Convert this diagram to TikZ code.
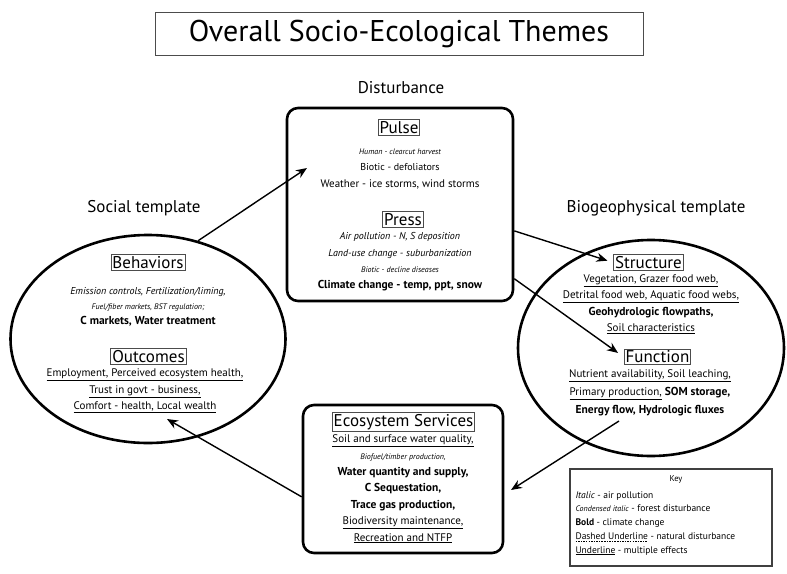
\documentclass[tikz,border=0pt]{standalone}
\usepackage{fontspec}
\setmainfont{PT Sans}
\usetikzlibrary{shapes.geometric,arrows.meta}

% text looks used in the key
\newcommand{\airpol}[1]{{\itshape\fontsize{10}{16}\selectfont #1}}
\newcommand{\forestdist}[1]{{\itshape\fontsize{8}{16}\selectfont #1}}
\newcommand{\climchg}[1]{{\bfseries\fontsize{11.5}{16}\selectfont #1}}
\newcommand{\multeff}[1]{\underline{#1}}
\newcommand{\dashul}[1]{\setbox0\hbox{#1}\rlap{\raisebox{-2pt}{\hbox to \wd0{\xleaders\hbox{\rule{1.5pt}{0.4pt}\hspace{1pt}}\hfill}}}\box0\relax}

\begin{document}
\begin{tikzpicture}[x=1pt,y=-1pt]

%-------------------------------------------------
% Styles
%-------------------------------------------------
\tikzset{
  titlebox/.style={draw=black!70, line width=0.8pt, minimum width=488, minimum height=43, font=\fontsize{30}{32}\selectfont},
  caption/.style={font=\fontsize{17}{19}\selectfont},
  hdr/.style={draw=black!70, line width=0.9pt, inner sep=1.5pt, font=\fontsize{17}{18}\selectfont},
  items/.style={align=center, font=\fontsize{11}{16.4}\selectfont},
  frame/.style={draw=black, line width=2.6pt, rounded corners=11pt, inner sep=0pt},
  template/.style={draw=black, ellipse, line width=2.6pt, inner sep=0pt},
  keybox/.style={draw=black!75, line width=2.2pt, inner sep=0pt},
  keytext/.style={align=left, font=\fontsize{9.5}{13.7}\selectfont},
  link/.style={-{Stealth[length=11pt,width=9pt]}, line width=1.4pt}
}

\useasboundingbox (0,0) rectangle (787,573);

%-------------------------------------------------
% Title
%-------------------------------------------------
\node[titlebox] (title) at (399,34) {Overall Socio-Ecological Themes};

%-------------------------------------------------
% Disturbance
%-------------------------------------------------
\node[caption] (distlab) at (401,88) {Disturbance};
\node[frame, minimum width=226, minimum height=193] (dist) at (400,204.5) {};

\node[hdr] (pulse) at (399,127.5) {Pulse};
\node[items] (pulsetxt) at (400,169) {%
  \forestdist{Human - clearcut harvest}\\
  {\fontsize{10}{16}\selectfont Biotic - defoliators}\\
  Weather - ice storms, wind storms};

\node[hdr] (press) at (403,219.5) {Press};
\node[items] (presstxt) at (400,262) {%
  \airpol{Air pollution - N, S deposition}\\
  \airpol{Land-use change - suburbanization}\\
  \forestdist{Biotic - decline diseases}\\
  \climchg{Climate change - temp, ppt, snow}};

%-------------------------------------------------
% Social template
%-------------------------------------------------
\node[caption] (soclab) at (144,208) {Social template};
\node[template, minimum width=275, minimum height=208] (soc) at (148,339) {};

\node[hdr] (behav) at (148,262.5) {Behaviors};
\node[items, font=\fontsize{11}{15}\selectfont] (behavtxt) at (148,307) {%
  \airpol{Emission controls, Fertilization/liming,}\\
  \forestdist{Fuel/fiber markets, BST regulation;}\\
  \climchg{C markets, Water treatment}};

\node[hdr] (outc) at (148.5,356.5) {Outcomes};
\node[items] (outctxt) at (145,391) {%
  \multeff{Employment, Perceived ecosystem health,}\\
  \multeff{Trust in govt - business,}\\
  \multeff{Comfort - health, Local wealth}};

%-------------------------------------------------
% Biogeophysical template
%-------------------------------------------------
\node[caption] (biolab) at (656,208) {Biogeophysical template};
\node[template, minimum width=266, minimum height=216] (bio) at (651,348) {};

\node[hdr] (struct) at (648.5,262.5) {Structure};
\node[items] (structtxt) at (651,304) {%
  \multeff{Vegetation, Grazer food web,}\\
  \multeff{Detrital food web, Aquatic food webs,}\\
  \climchg{Geohydrologic flowpaths,}\\
  \multeff{Soil characteristics}};

\node[hdr] (func) at (657.5,357) {Function};
\node[items, font=\fontsize{11}{18}\selectfont] (functxt) at (650,393) {%
  \multeff{Nutrient availability, Soil leaching,}\\
  \multeff{Primary production,} \climchg{SOM storage,}\\
  \climchg{Energy flow, Hydrologic fluxes}};

%-------------------------------------------------
% Ecosystem services
%-------------------------------------------------
\node[frame, minimum width=200, minimum height=148] (eco) at (403,479) {};
\node[hdr] (ecoh) at (403.5,422) {Ecosystem Services};
\node[items] (ecotxt) at (403,489) {%
  \multeff{Soil and surface water quality,}\\
  \forestdist{Biofuel/timber production,}\\
  \climchg{Water quantity and supply,}\\
  \climchg{C Sequestation,}\\
  \climchg{Trace gas production,}\\
  \multeff{Biodiversity maintenance,}\\
  \multeff{Recreation and NTFP}};

%-------------------------------------------------
% Key
%-------------------------------------------------
\node[keybox, minimum width=202, minimum height=97] (key) at (671,517.5) {};
\node[font=\fontsize{8.5}{10}\selectfont] (keyhd) at (676,479) {Key};
\node[keytext, anchor=north west] (keytxt) at (572,488) {%
  \textit{Italic} - air pollution\\
  {\itshape\fontsize{8}{13.7}\selectfont Condensed italic} - forest disturbance\\
  \textbf{Bold} - climate change\\
  \dashul{Dashed Underline} - natural disturbance\\
  \underline{Underline} - multiple effects};

%-------------------------------------------------
% Arrows
%-------------------------------------------------
\coordinate (t1) at (307,168);
\coordinate (s4) at (619,421);
\coordinate (t4) at (511,490);
\coordinate (t5) at (167,419);

\draw[link] (soc.63) -- (t1);
\draw[link, shorten >=6pt] (dist.-13.7) -- (struct.west);
\draw[link, shorten >=7pt] (dist.-33) -- (func.west);
\draw[link] (s4) -- (t4);
\draw[link] (eco.190) -- (t5);

\end{tikzpicture}
\end{document}
